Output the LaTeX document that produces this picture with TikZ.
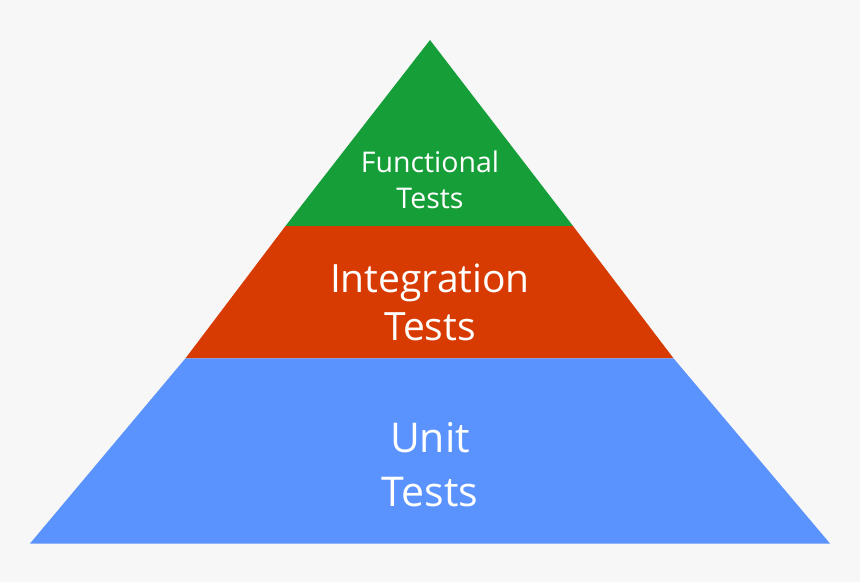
\documentclass[tikz,border=0pt]{standalone}
\usepackage{fontspec}
\setmainfont{Open Sans}
\definecolor{bgGray}{HTML}{F7F7F7}
\definecolor{funcGreen}{HTML}{169E38}
\definecolor{integRed}{HTML}{D83B01}
\definecolor{unitBlue}{HTML}{5B93FE}
\begin{document}
\begin{tikzpicture}[
        x=1pt, y=-1pt,
        layertext/.style={text=white, align=center, inner sep=0pt}
    ]
    \fill[bgGray] (0,0) rectangle (860,582);

    \coordinate (apex) at (430,40);
    \coordinate (gl) at (285.5,226);
    \coordinate (gr) at (573,226);
    \coordinate (rl) at (185.5,358.3);
    \coordinate (rr) at (673.5,358.3);
    \coordinate (bl) at (30,543.5);
    \coordinate (br) at (830,543.5);

    \fill[funcGreen] (apex) -- (gr) -- (gl) -- cycle;
    \fill[integRed] (gl) -- (gr) -- (rr) -- (rl) -- cycle;
    \fill[unitBlue] (rl) -- (rr) -- (br) -- (bl) -- cycle;

    \node[layertext, font=\fontsize{28.5}{36}\selectfont] (functional) at (430,180) {Functional\\Tests};
    \node[layertext, font=\fontsize{39}{48}\selectfont] (integration) at (430,302) {Integration\\Tests};
    \node[layertext, font=\fontsize{41}{54}\selectfont] (unit) at (430,465) {Unit\\Tests};
\end{tikzpicture}
\end{document}
